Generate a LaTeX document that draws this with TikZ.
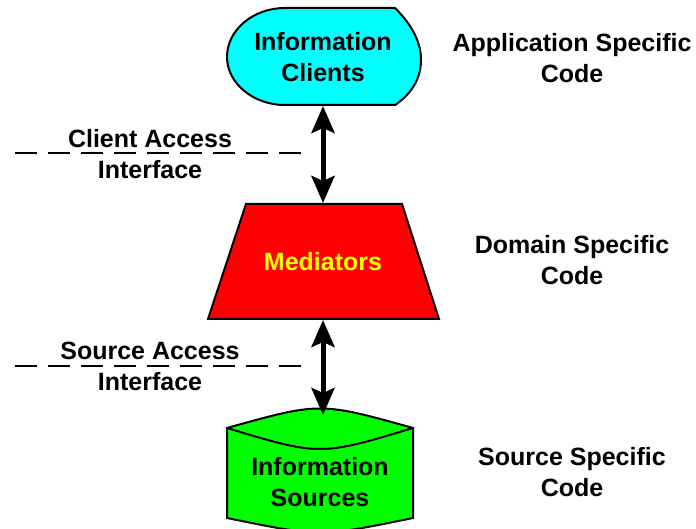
\documentclass[tikz,border=0pt]{standalone}
\usepackage{fontspec}
\setmainfont{Liberation Sans}
\usetikzlibrary{arrows.meta}
\tikzset{
  shapeline/.style={draw=black, line width=2pt, line join=miter},
  lbl/.style={font=\bfseries\fontsize{25}{31}\selectfont, align=center, inner sep=0pt},
  dbl/.style={line width=5pt, {Stealth[length=27pt,width=23pt,inset=5pt]}-{Stealth[length=27pt,width=23pt,inset=5pt]}},
  ifline/.style={line width=2pt, dash pattern=on 22pt off 11pt},
}
\definecolor{ccyan}{RGB}{0,255,255}
\definecolor{cred}{RGB}{255,0,0}
\definecolor{cgreen}{RGB}{0,255,0}
\definecolor{cyel}{RGB}{255,255,0}
\begin{document}
\begin{tikzpicture}[x=1pt,y=-1pt]
\useasboundingbox (0,0) rectangle (696,529);
% client shape
\path[shapeline, fill=ccyan] (285,8) -- (395,8) .. controls (412,25) and (421,42) .. (421,60)
  .. controls (421,80) and (410,95) .. (395,105) -- (285,105)
  .. controls (253,105) and (227,83) .. (227,57) .. controls (227,30) and (253,8) .. (285,8) -- cycle;
% mediators trapezoid
\path[shapeline, fill=cred] (246,204) -- (402,204) -- (439,319) -- (208,319) -- cycle;
% sources cylinder
\path[shapeline, fill=cgreen] (227,428) .. controls (320,402) .. (413,428) -- (413,518)
  .. controls (320,537) .. (227,518) -- cycle;
\draw[line width=2pt] (227,428) .. controls (320,456) .. (413,428);
% coordinates
\coordinate (clientbot) at (323,106);
\coordinate (medtop) at (323,203);
\coordinate (medbot) at (323,320);
\coordinate (srctop) at (323,415);
% texts
\node[lbl] (clients) at (323,57) {Information\\Clients};
\node[lbl, text=cyel] (mediators) at (323,262) {Mediators};
\node[lbl] (sources) at (320,482) {Information\\Sources};
\node[lbl] (appcode) at (572,58) {Application Specific\\Code};
\node[lbl] (domcode) at (572,260) {Domain Specific\\Code};
\node[lbl] (srccode) at (572,472) {Source Specific\\Code};
\node[lbl] (cai) at (150,154) {Client Access\\Interface};
\node[lbl] (sai) at (150,366) {Source Access\\Interface};
% interface lines
\coordinate (cl1) at (15,153);
\coordinate (cl2) at (304,153);
\coordinate (sl1) at (15,366);
\coordinate (sl2) at (304,366);
\draw[ifline] (cl1) -- (cl2);
\draw[ifline] (sl1) -- (sl2);
% arrows
\draw[dbl] (clientbot) -- (medtop);
\draw[dbl] (medbot) -- (srctop);
\end{tikzpicture}
\end{document}
